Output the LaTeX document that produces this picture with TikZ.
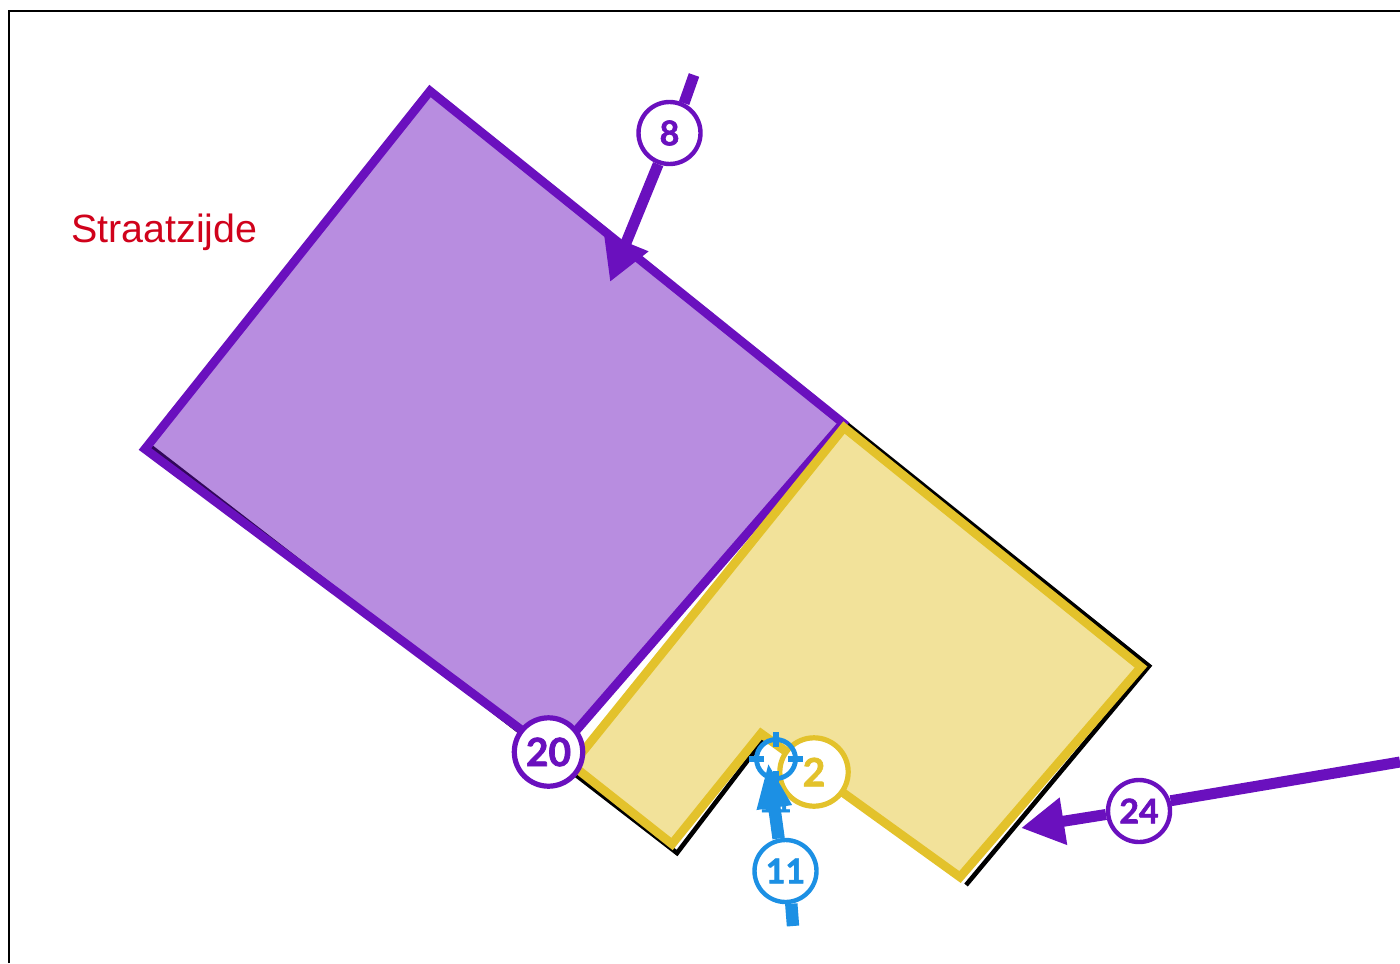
\documentclass[tikz,border=0pt]{standalone}
\usepackage{fontspec}
\setmainfont{Liberation Sans}
\newfontfamily\badgefont{Lato}[BoldFeatures={FakeBold=1.8}]
\usetikzlibrary{arrows.meta}
\definecolor{mpurple}{RGB}{106, 16, 190}
\definecolor{myellow}{RGB}{227, 194, 43}
\definecolor{mblue}{RGB}{28, 144, 228}
\definecolor{mred}{RGB}{208, 2, 27}
\tikzset{badge/.style = {circle, draw, fill = white, inner sep = 0, line width = 2.2pt, minimum size = 31pt, font = \badgefont\bfseries\fontsize{17}{17}\selectfont}}
\tikzset{bigbadge/.style = {badge, line width = 2.6pt, minimum size = 34.2pt, font = \badgefont\bfseries\fontsize{19.5}{19.5}\selectfont}}
\tikzset{lead/.style = {line width = 5.5pt}}
\tikzset{leadhead/.style = {lead, -{Triangle[length = 21.5pt, width = 22.5pt]}}}
\tikzset{zone/.style = {line width = 4.4pt, fill opacity = 0.48, miter limit = 10}}

\begin{document}
\begin{tikzpicture}[x=0.5pt, y=-0.5pt]
    \useasboundingbox (0, 0) rectangle (1400, 963);
    \draw [line width = 1.2pt] (9, 963) |- (1400, 11);

    \node [mred, anchor = base west, inner sep = 0, font = \fontsize{19.7}{19.7}\selectfont] (street) at (71, 242) {Straatzijde};

    \draw [line width = 2.3pt] (151, 447) -- (677, 853) -- (764, 739);
    \draw [line width = 2.3pt] (843, 421) -- (1149, 666) -- (966, 885);

    \draw [zone, draw = mpurple, fill = mpurple] (430, 91) -- (145, 449) -- (555, 755) -- (843, 423) -- cycle;
    \draw [zone, draw = myellow, fill = myellow] (844, 427.5) -- (1141, 667) -- (960, 877) -- (761, 733.5) -- (672, 844) -- (572, 765) -- cycle;

    % hidden label below the blue arrow
    \node [mblue, inner sep = 0, font = \badgefont\bfseries\fontsize{14}{14}\selectfont] (label11) at (775, 802) {11};

    \coordinate (start8) at (694, 75);
    \coordinate (tip8) at (610, 282);
    \coordinate (start24) at (1400, 762);
    \coordinate (tip24) at (1021, 828);
    \coordinate (start11) at (793, 926);
    \coordinate (tip11) at (768, 762);

    \node [badge, draw = mpurple, text = mpurple] (n8) at (669.5, 133) {8};
    \node [badge, draw = mpurple, text = mpurple] (n24) at (1139, 811) {24};
    \node [badge, draw = mblue, text = mblue] (n11) at (785.5, 871) {11};
    \node [bigbadge, draw = myellow, text = myellow] (n2) at (814, 772) {2};
    \node [bigbadge, draw = mpurple, text = mpurple] (n20) at (548.5, 752) {20};

    \node [circle, draw = mblue, line width = 2.4pt, inner sep = 0, minimum size = 19.5pt] (target) at (776, 759) {};
    \foreach \a in {0, 90, 180, 270}{
      \draw [mblue, line width = 3pt] ([shift={(\a:12)}]target.center) -- ([shift={(\a:27)}]target.center);
    }

    \draw [lead, mpurple] (start8) -- (n8.64);
    \draw [leadhead, mpurple] (n8.250) -- (tip8);
    \draw [lead, mpurple] (start24) -- (n24.18);
    \draw [leadhead, mpurple] (n24.186) -- (tip24);
    \draw [lead, mblue, line width = 6.2pt] (start11) -- (n11.280);
    \draw [leadhead, mblue, line width = 6.2pt, -{Triangle[length = 23pt, width = 16pt]}] (n11.102) -- (tip11);
  \end{tikzpicture}
\end{document}
